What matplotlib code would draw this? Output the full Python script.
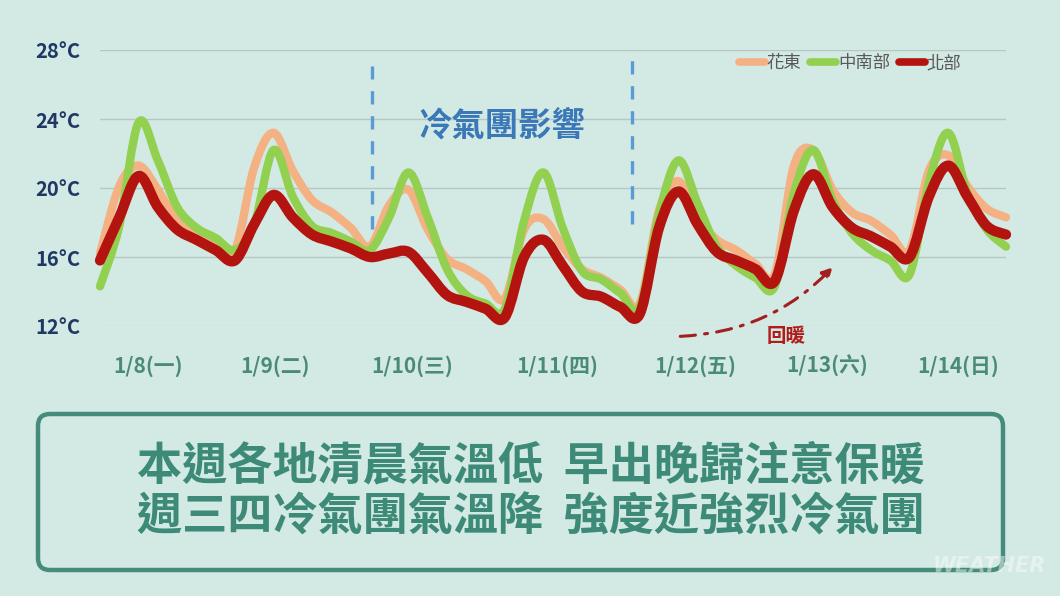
import matplotlib.pyplot as plt
import numpy as np
from matplotlib.path import Path
from matplotlib.patches import PathPatch, FancyBboxPatch
from matplotlib.lines import Line2D

plt.rcParams['font.family'] = ['Noto Sans CJK TC', 'DejaVu Sans']

# temperatures, 7 samples per day starting 1/8 early morning
hualien = [16.2, 20.1, 21.3, 19.9, 18.1, 17.6, 17.0,
           16.4, 21.2, 23.2, 21.0, 19.3, 18.6, 17.7,
           16.6, 19.0, 19.9, 17.6, 15.9, 15.3, 14.6,
           13.6, 17.6, 18.2, 16.6, 15.3, 14.8, 14.1,
           13.3, 18.7, 20.4, 18.3, 17.0, 16.4, 15.6,
           15.0, 21.3, 22.2, 19.9, 18.6, 18.1, 17.3,
           16.4, 21.0, 21.9, 20.1, 18.8, 18.3]
central = [14.3, 17.8, 23.8, 21.6, 18.9, 17.7, 17.1,
           16.4, 17.9, 22.2, 19.5, 17.8, 17.4, 16.9,
           16.4, 18.3, 20.9, 18.3, 15.3, 13.8, 13.3,
           13.0, 18.1, 20.9, 17.7, 15.2, 14.7, 13.9,
           13.1, 18.5, 21.6, 19.1, 16.6, 15.5, 14.8,
           14.3, 19.7, 22.2, 19.3, 17.4, 16.4, 15.8,
           15.0, 20.3, 23.2, 19.7, 17.6, 16.6]
north = [15.8, 18.3, 20.7, 18.9, 17.6, 17.0, 16.4,
         15.8, 17.9, 19.6, 18.3, 17.3, 16.9, 16.5,
         16.0, 16.2, 16.3, 15.1, 13.8, 13.4, 13.0,
         12.5, 16.0, 17.0, 15.5, 14.0, 13.7, 13.1,
         12.7, 17.7, 19.8, 17.9, 16.3, 15.8, 15.3,
         14.6, 18.7, 20.8, 18.9, 17.7, 17.2, 16.6,
         16.0, 19.5, 21.3, 19.5, 17.8, 17.3]

series_names = ['花東', '中南部', '北部']
day_labels = ['1/8(一)', '1/9(二)', '1/10(三)', '1/11(四)', '1/12(五)', '1/13(六)', '1/14(日)']
day_pos = [2.5, 9.1, 16.2, 23.7, 30.9, 37.7, 44.5]
y_ticks = [12, 16, 20, 24, 28]
cold_start, cold_end = 14.1, 27.6

bg = '#d3e9e4'
colors = ['#f4b183', '#92d050', '#b3140f']
widths = [6.0, 6.0, 7.4]


def smooth_path(y):
    # smoothed line like the spreadsheet one: catmull-rom as bezier segments
    pts = np.column_stack([np.arange(len(y)), np.asarray(y, float)])
    p = np.vstack([pts[0], pts, pts[-1]])
    verts = [pts[0]]
    codes = [Path.MOVETO]
    for i in range(len(pts) - 1):
        p0, p1, p2, p3 = p[i], p[i + 1], p[i + 2], p[i + 3]
        verts += [p1 + (p2 - p0) / 6, p2 - (p3 - p1) / 6, p2]
        codes += [Path.CURVE4] * 3
    return Path(verts, codes)


fig = plt.figure(figsize=(10.6, 5.96), dpi=100, facecolor=bg)
ax = fig.add_axes([100 / 1060, 270 / 596, 906 / 1060, 276 / 596])
ax.set_facecolor('none')
ax.set_xlim(0, len(north) - 1)
ax.set_ylim(12, 28)
for s in ax.spines.values():
    s.set_visible(False)

for v in y_ticks:
    ax.axhline(v, color='#b5c8c4', lw=1.0, ls=':' if v == 12 else '-', zorder=1)

ax.set_yticks(y_ticks, [f'{v}°C' for v in y_ticks])
ax.set_xticks(day_pos, day_labels)
ax.tick_params(axis='y', length=0, pad=14, labelsize=14.5, labelcolor='#1f3864')
ax.tick_params(axis='x', length=0, pad=21, labelsize=15, labelcolor='#4a8a78')
for t in ax.get_xticklabels() + ax.get_yticklabels():
    t.set_fontweight('bold')

for data, c, w in zip([hualien, central, north], colors, widths):
    ax.add_patch(PathPatch(smooth_path(data), fc='none', ec=c, lw=w,
                           capstyle='round', joinstyle='round', clip_on=False, zorder=3))

# cold air mass period
for xv, top, bot in [(cold_start, 27.1, 17.6), (cold_end, 27.4, 17.9)]:
    ax.plot([xv, xv], [bot, top], color='#5b9bd5', lw=2.4, ls=(0, (4, 3.5)), zorder=2)
ax.text((cold_start + cold_end) / 2, 23.6, '冷氣團影響', ha='center', va='center',
        fontsize=24, fontweight='bold', color='#3a78b8')

handles = [Line2D([], [], color=c, lw=5.5, solid_capstyle='round') for c in colors]
fig.legend(handles, series_names, loc='center', bbox_to_anchor=(850 / 1060, 1 - 63 / 596),
           ncol=3, frameon=False, handlelength=1.5, handletextpad=0.1, columnspacing=0.5,
           prop={'size': 12.5}, labelcolor='#595959')

# warming arrow
ax.annotate('', xy=(38.0, 15.4), xytext=(30.1, 11.4),
            arrowprops=dict(arrowstyle='-|>,head_length=0.6,head_width=0.3', color='#a31f1f',
                            lw=2.2, ls=(0, (5, 3, 1, 3)), connectionstyle='arc3,rad=0.2',
                            shrinkA=0, shrinkB=0),
            annotation_clip=False)
ax.text(35.6, 11.42, '回暖', ha='center', va='center', fontsize=14, fontweight='bold',
        color='#b01c1c', clip_on=False)

# bottom message box, pixel coordinates
bx = fig.add_axes([0, 0, 1, 1])
bx.set_xlim(0, 1060)
bx.set_ylim(596, 0)
bx.axis('off')
bx.add_patch(FancyBboxPatch((38, 414), 965, 156, boxstyle='round,pad=0,rounding_size=12',
                            fc='none', ec='#468c7c', lw=3.2))
bx.text(531, 466, '本週各地清晨氣溫低  早出晚歸注意保暖', ha='center', va='center',
        fontsize=32.5, fontweight='bold', color='#3d8a78')
bx.text(531, 518, '週三四冷氣團氣溫降  強度近強烈冷氣團', ha='center', va='center',
        fontsize=32.5, fontweight='bold', color='#3d8a78')
bx.text(990, 566, 'WEATHER', ha='center', va='center', fontsize=15, style='italic',
        fontweight='bold', color='white', alpha=0.45, family='DejaVu Sans')

fig.savefig('out.png', dpi=100, facecolor=bg)
